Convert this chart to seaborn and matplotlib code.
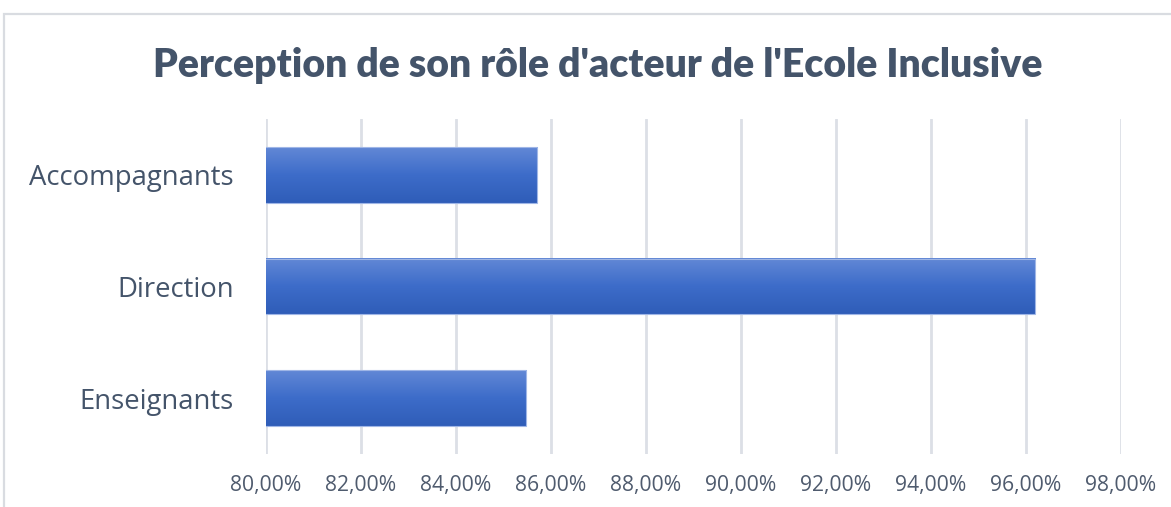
import numpy as np
import pandas as pd
import matplotlib
matplotlib.use("Agg")
import matplotlib.pyplot as plt
from matplotlib.colors import LinearSegmentedColormap
from matplotlib.patches import Rectangle
from matplotlib.ticker import FuncFormatter, MultipleLocator
import seaborn as sns

# Data
categories = ["Accompagnants", "Direction", "Enseignants"]
values = [85.71, 96.20, 85.49]
title = "Perception de son rôle d'acteur de l'Ecole Inclusive"

df = pd.DataFrame({"groupe": categories, "pct": values})

sns.set_theme(style="white")
plt.rcParams["font.family"] = ["Lato", "DejaVu Sans"]

XMIN, XMAX = 80, 98

fig = plt.figure(figsize=(11.71, 5.07), dpi=100)
fig.patch.set_facecolor("white")

# card border
fig.add_artist(Rectangle((4 / 1171, -0.1), 1.2, (507 - 14) / 507 + 0.1,
                         transform=fig.transFigure, facecolor="none",
                         edgecolor="#D9DCE1", linewidth=1.6))

ax = fig.add_axes([265.5 / 1171, 1 - 454 / 507, (1121 - 265.5) / 1171, (454 - 119) / 507])

sns.barplot(data=df, x="pct", y="groupe", orient="h", width=0.5,
            color="#3F6FCB", edgecolor="#9FB6E6", linewidth=0.8, ax=ax, zorder=3)

ax.set_xlim(XMIN, XMAX)
ax.set_ylim(2.5, -0.5)
ax.xaxis.set_major_locator(MultipleLocator(2))
ax.xaxis.set_major_formatter(FuncFormatter(lambda v, p: f"{v:.2f}".replace(".", ",") + "%"))
ax.grid(axis="x", color="#DCDFE6", linewidth=2.0, zorder=0)
ax.grid(axis="y", visible=False)
for s in ax.spines.values():
    s.set_visible(False)
ax.set_xlabel("")
ax.set_ylabel("")
ax.tick_params(axis="x", length=0, pad=15, labelsize=15.2, labelcolor="#4F5B6E")
ax.tick_params(axis="y", length=0, pad=22.7, labelsize=19.8, labelcolor="#44546A")
for lbl in ax.get_yticklabels() + ax.get_xticklabels():
    lbl.set_fontfamily(["Open Sans", "DejaVu Sans"])

# vertical gradient fill on each bar, limited to the visible range
grad = LinearSegmentedColormap.from_list("barfill", ["#6288D6", "#3D6CC9", "#2F5DB8"])
gimg = np.linspace(0, 1, 256).reshape(-1, 1)
for patch in ax.patches:
    x0, y0 = patch.get_x(), patch.get_y()
    w, h = patch.get_width(), patch.get_height()
    left = max(x0, XMIN)
    right = x0 + w
    ax.imshow(gimg, cmap=grad, aspect="auto", extent=(left, right, y0 + h, y0),
              origin="upper", zorder=3.5)
    patch.set_facecolor("none")
    patch.set_zorder(4)
ax.set_xlim(XMIN, XMAX)
ax.set_ylim(2.5, -0.5)

fig.text(598 / 1171, 1 - 65 / 507, title, ha="center", va="center",
         fontsize=28.2, fontweight="heavy", color="#44546A")

fig.savefig("out.png", dpi=100, facecolor="white")
